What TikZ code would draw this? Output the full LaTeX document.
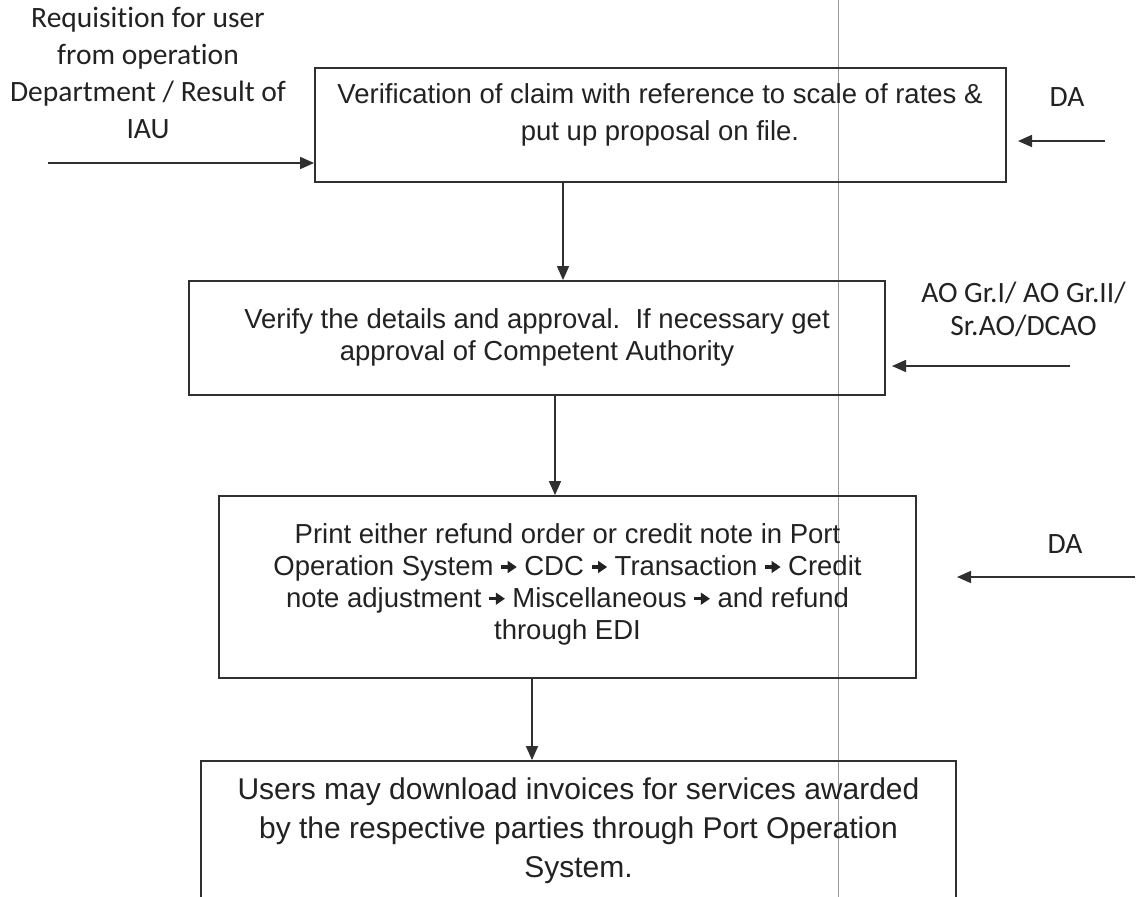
\documentclass[tikz,border=0pt]{standalone}
\usepackage{fontspec}
\setmainfont{Liberation Sans}
\newfontfamily\calib[Ligatures=NoCommon]{Carlito}
\usetikzlibrary{arrows.meta}
\definecolor{ink}{HTML}{222222}
\definecolor{edge}{HTML}{303030}
\definecolor{scanline}{HTML}{9A9A9A}
\newcommand{\rarr}{\tikz[baseline=0pt,x=1pt,y=1pt]{\fill[ink] (0,7.0) rectangle (8,10.2); \fill[ink] (6.5,2.4) -- (15.5,8.6) -- (6.5,14.8) -- cycle;}}
\begin{document}
\begin{tikzpicture}[x=1pt,y=-1pt,
  boxshape/.style={draw=edge, line width=1.8pt, rectangle, inner sep=0pt},
  boxtext/.style={align=center, inner sep=0pt, text=ink, anchor=base},
  sidelabel/.style={align=center, inner sep=0pt, text=ink, anchor=base, font=\calib\fontsize{29.5}{37}\selectfont},
  flow/.style={draw=edge, line width=1.6pt, -{Triangle[length=14pt,width=12pt]}}]
\useasboundingbox (0,0) rectangle (1141,897);
\fill[white] (0,0) rectangle (1141,897);
\clip (0,0) rectangle (1141,897);
\draw[scanline, line width=1pt] (838,0) -- (838,897);
% boxes
\node[boxshape, minimum width=691pt, minimum height=114pt] (b1) at (660.5,125) {};
\node[boxshape, minimum width=696pt, minimum height=114pt] (b2) at (537,338) {};
\node[boxshape, minimum width=697pt, minimum height=182pt] (b3) at (567.5,587) {};
\node[boxshape, minimum width=755pt, minimum height=200pt] (b4) at (578.5,861) {};
% box texts (anchor = baseline of last line)
\node[boxtext, font=\fontsize{27.5}{37}\selectfont] (t1) at (660,140) {Verification of claim with reference to scale of rates \&\\put up proposal on file.};
\node[boxtext, font=\fontsize{27.5}{32}\selectfont] (t2) at (537,360) {Verify the details and approval.\ \ If necessary get\\approval of Competent Authority};
\node[boxtext, font=\fontsize{27.5}{31.7}\selectfont] (t3) at (567.5,639) {Print either refund order or credit note in Port\\Operation System \rarr{} CDC \rarr{} Transaction \rarr{} Credit\\note adjustment \rarr{} Miscellaneous \rarr{} and refund\\through EDI};
\node[boxtext, font=\fontsize{30}{39}\selectfont] (t4) at (578.5,877) {Users may download invoices for services awarded\\by the respective parties through Port Operation\\System.};
% side labels
\node[sidelabel] (req) at (148,138) {Requisition for user\\from operation\\Department / Result of\\IAU};
\node[sidelabel] (da1) at (1067,106) {DA};
\node[sidelabel, font=\calib\fontsize{29.5}{33}\selectfont] (ao) at (1023.5,335) {AO Gr.I/ AO Gr.II/\\Sr.AO/DCAO};
\node[sidelabel] (da2) at (1065,553) {DA};
% connectors
\coordinate (s0) at (48,163);
\coordinate (s1) at (1105,141); \coordinate (e1) at (1018,141);
\coordinate (s2) at (1070,366); \coordinate (e2) at (892,366);
\coordinate (s3) at (1135,577); \coordinate (e3) at (957,577);
\coordinate (c1) at (563,0); \coordinate (c2) at (555,0); \coordinate (c3) at (532,0);
\draw[flow] (s0) -- (s0 -| b1.west);
\draw[flow] (s1) -- (e1);
\draw[flow] (s2) -- (e2);
\draw[flow] (s3) -- (e3);
\draw[flow] (b1.south -| c1) -- (b2.north -| c1);
\draw[flow] (b2.south -| c2) -- (b3.north -| c2);
\draw[flow] (b3.south -| c3) -- (b4.north -| c3);
\end{tikzpicture}
\end{document}
